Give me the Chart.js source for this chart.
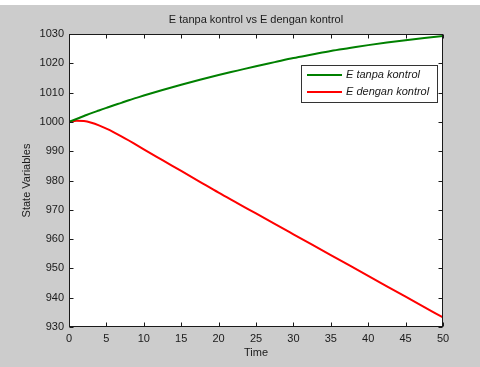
<!DOCTYPE html>
<html>
<head>
<meta charset="utf-8">
<title>E tanpa kontrol vs E dengan kontrol</title>
<script src="https://cdn.jsdelivr.net/npm/chart.js@4/dist/chart.umd.min.js"></script>
<style>
    html, body { margin: 0; padding: 0; background: #ffffff; }
    #wrap { position: relative; width: 480px; height: 367px; }
</style>
</head>
<body>
<div id="wrap"><canvas id="stateChart" width="480" height="367"></canvas></div>
<script>
// ── Data ──
var timeValues    = [0, 1, 2, 3, 4, 5, 6, 7, 8, 9, 10, 12.5, 15, 17.5, 20, 22.5, 25, 27.5, 30, 32.5, 35, 37.5, 40, 42.5, 45, 47.5, 50];
var eTanpaKontrol = [1000, 1001.0, 1002.0, 1003.0, 1003.9, 1004.8, 1005.7, 1006.5, 1007.4, 1008.2, 1009.0,
                     1010.9, 1012.7, 1014.4, 1016.0, 1017.5, 1019.0, 1020.4, 1021.8, 1023.0, 1024.2, 1025.2,
                     1026.2, 1027.1, 1027.9, 1028.6, 1029.3];
var eDenganKontrol = [1000, 1000.4, 1000.3, 999.7, 998.8, 997.7, 996.45, 995.1, 993.65, 992.15, 990.65,
                      986.95, 983.25, 979.55, 975.85, 972.3, 968.75, 965.2, 961.65, 958.1, 954.55, 951.0,
                      947.45, 943.9, 940.35, 936.8, 933.25];
var seriesLabels = ['E tanpa kontrol', 'E dengan kontrol'];
var xTickValues = [0, 5, 10, 15, 20, 25, 30, 35, 40, 45, 50];
var yTickValues = [930, 940, 950, 960, 970, 980, 990, 1000, 1010, 1020, 1030];

var chartTitle = 'E tanpa kontrol vs E dengan kontrol';
var FONT = "'Liberation Sans', Arial, Helvetica, sans-serif";
var INK = '#1a1a1a';

function toPoints(values) {
    return timeValues.map(function (t, i) { return { x: t, y: values[i] }; });
}

// ── MATLAB-style figure: grey frame, boxed axes, inward ticks, legend ──
var matlabLook = {
    id: 'matlabLook',
    beforeDraw: function (chart) {
        var ctx = chart.ctx, a = chart.chartArea;
        ctx.save();
        ctx.fillStyle = '#cccccc';
        ctx.fillRect(0, 5, chart.width, chart.height - 5);
        ctx.fillStyle = '#ffffff';
        ctx.fillRect(a.left, a.top, a.right - a.left, a.bottom - a.top);
        ctx.restore();
    },
    afterDraw: function (chart) {
        var ctx = chart.ctx, a = chart.chartArea;
        var xs = chart.scales.x, ys = chart.scales.y;
        var L = Math.round(a.left) + 0.5, R = Math.round(a.right) - 0.5;
        var T = Math.round(a.top) + 0.5, B = Math.round(a.bottom) - 0.5;
        var tick = 4;
        ctx.save();
        ctx.strokeStyle = INK;
        ctx.lineWidth = 1;
        ctx.strokeRect(L, T, R - L, B - T);
        ctx.beginPath();
        xTickValues.forEach(function (v) {
            var px = Math.round(xs.getPixelForValue(v)) + 0.5;
            ctx.moveTo(px, B); ctx.lineTo(px, B - tick);
            ctx.moveTo(px, T); ctx.lineTo(px, T + tick);
        });
        yTickValues.forEach(function (v) {
            var py = Math.round(ys.getPixelForValue(v)) + 0.5;
            ctx.moveTo(L, py); ctx.lineTo(L + tick, py);
            ctx.moveTo(R, py); ctx.lineTo(R - tick, py);
        });
        ctx.stroke();

        // title
        ctx.fillStyle = INK;
        ctx.font = '11px ' + FONT;
        ctx.textAlign = 'center';
        ctx.textBaseline = 'middle';
        ctx.fillText(chartTitle, (a.left + a.right) / 2, 20);

        // legend
        var bx = 301.5, by = 65.5, bw = 136, bh = 37;
        ctx.fillStyle = '#ffffff';
        ctx.fillRect(bx, by, bw, bh);
        ctx.strokeStyle = '#333333';
        ctx.strokeRect(bx, by, bw, bh);
        ctx.font = 'italic 11px ' + FONT;
        ctx.textAlign = 'left';
        chart.data.datasets.forEach(function (ds, i) {
            var ry = 75 + i * 17;
            ctx.strokeStyle = ds.borderColor;
            ctx.lineWidth = 2;
            ctx.beginPath();
            ctx.moveTo(307, ry); ctx.lineTo(342, ry);
            ctx.stroke();
            ctx.fillStyle = INK;
            ctx.fillText(ds.label, 346, ry);
        });
        ctx.restore();
    }
};

function plainTick(value) { return String(value); }

new Chart(document.getElementById('stateChart'), {
    type: 'line',
    data: {
        datasets: [
            {
                label: seriesLabels[0],
                data: toPoints(eTanpaKontrol),
                borderColor: '#008000',
                borderWidth: 2,
                pointRadius: 0,
                cubicInterpolationMode: 'monotone'
            },
            {
                label: seriesLabels[1],
                data: toPoints(eDenganKontrol),
                borderColor: '#ff0000',
                borderWidth: 2,
                pointRadius: 0,
                cubicInterpolationMode: 'monotone'
            }
        ]
    },
    options: {
        responsive: false,
        animation: false,
        devicePixelRatio: 1,
        layout: { padding: { left: 0, right: 37, top: 34, bottom: 0 } },
        plugins: {
            legend: { display: false },
            title: { display: false },
            tooltip: { enabled: false }
        },
        scales: {
            x: {
                type: 'linear',
                min: 0,
                max: 50,
                afterBuildTicks: function (scale) {
                    scale.ticks = xTickValues.map(function (v) { return { value: v }; });
                },
                afterFit: function (scale) { scale.height = 40; },
                grid: { display: false, drawTicks: false },
                border: { display: false },
                ticks: { padding: 5, color: INK, font: { family: FONT, size: 11 }, maxRotation: 0, callback: plainTick },
                title: { display: true, text: 'Time', color: INK, font: { family: FONT, size: 11 }, padding: { top: 0, bottom: 7 } }
            },
            y: {
                type: 'linear',
                min: 930,
                max: 1030,
                afterBuildTicks: function (scale) {
                    scale.ticks = yTickValues.map(function (v) { return { value: v }; });
                },
                afterFit: function (scale) { scale.width = 69; },
                grid: { display: false, drawTicks: false },
                border: { display: false },
                ticks: { padding: 5, color: INK, font: { family: FONT, size: 11 }, callback: plainTick },
                title: { display: true, text: 'State Variables', color: INK, font: { family: FONT, size: 11 }, padding: { top: 20, bottom: 0 } }
            }
        }
    },
    plugins: [matlabLook]
});
</script>
</body>
</html>
